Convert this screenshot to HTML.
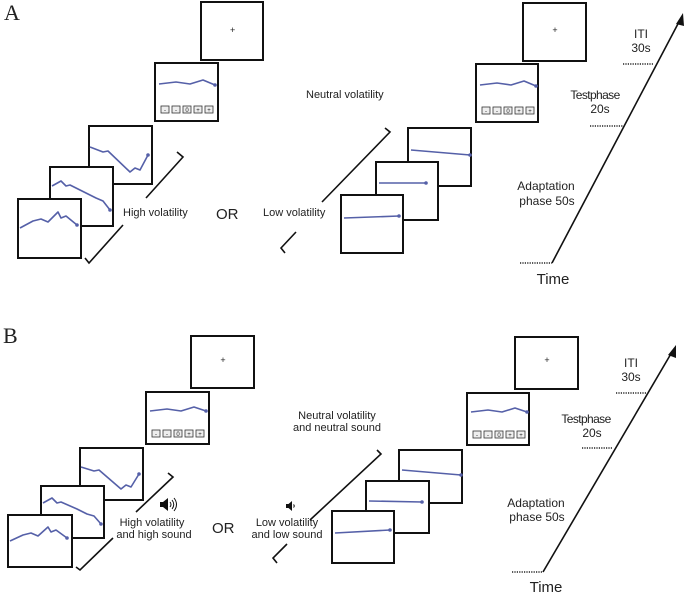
<!DOCTYPE html>
<html><head><meta charset="utf-8"><style>
html,body{margin:0;padding:0;background:#fff;}
svg{display:block;}
text{font-family:"Liberation Sans",Arial,sans-serif;fill:#222;}
.f{fill:#fff;stroke:#111;stroke-width:2;}
.c{fill:none;stroke:#5560a8;stroke-width:1.6;stroke-linejoin:round;}
.d{fill:#5560a8;}
.l{fill:none;stroke:#111;stroke-width:1.6;}
.dt{stroke:#222;stroke-width:1.5;stroke-dasharray:1.2,1.2;}
.b{fill:#eee;stroke:#333;stroke-width:0.8;}
.bt{font-size:6px;text-anchor:middle;}
</style></head><body>
<svg width="685" height="593" viewBox="0 0 685 593" xmlns="http://www.w3.org/2000/svg">
<!-- ============ PANEL A ============ -->
<text x="4" y="20" style="font-family:'Liberation Serif',serif;font-size:22px;">A</text>

<!-- left stack -->
<g transform="translate(201,2)"><rect class="f" width="62" height="58"/><text x="29" y="31" style="font-size:9px">+</text></g>
<g transform="translate(155,63)"><rect class="f" width="63" height="58"/>
<polyline class="c" points="4,21 21,19 35,21 48,17 60,22"/><circle class="d" cx="60" cy="22" r="1.8"/>
<rect class="b" x="6" y="43" width="8" height="7"/><text class="bt" x="10" y="49">-</text>
<rect class="b" x="17" y="43" width="8" height="7"/><text class="bt" x="21" y="49">-</text>
<rect class="b" x="28" y="43" width="8" height="7"/><text class="bt" x="32" y="49">0</text>
<rect class="b" x="39" y="43" width="8" height="7"/><text class="bt" x="43" y="49">+</text>
<rect class="b" x="50" y="43" width="8" height="7"/><text class="bt" x="54" y="49">+</text></g>
<g transform="translate(89,126)"><rect class="f" width="63" height="58"/>
<polyline class="c" points="1,21 14,26 19,25 41,46 46,42 51,44 59,29"/><circle class="d" cx="59" cy="29" r="1.8"/></g>
<g transform="translate(50,167)"><rect class="f" width="63" height="59"/>
<polyline class="c" points="2,19 11,14 16,19 20,18 36,26 46,31 53,34 60,43"/><circle class="d" cx="60" cy="43" r="1.8"/></g>
<g transform="translate(18,199)"><rect class="f" width="63" height="59"/>
<polyline class="c" points="2,29 15,22 23,20 30,23 40,13 43,19 48,17 59,26"/><circle class="d" cx="59" cy="26" r="1.8"/></g>
<polyline class="l" points="177,152 183,157 146,198"/>
<polyline class="l" points="123,225 89,263 85,258"/>
<text x="123" y="216" style="font-size:11px">High volatility</text>
<text x="216" y="219" style="font-size:15px">OR</text>

<!-- right stack A -->
<g transform="translate(523,3)"><rect class="f" width="63" height="58"/><text x="32" y="30" style="font-size:9px;text-anchor:middle">+</text></g>
<g transform="translate(476,64)"><rect class="f" width="62" height="58"/>
<polyline class="c" points="4,21 21,19 35,21 48,17 60,22"/><circle class="d" cx="60" cy="22" r="1.8"/>
<rect class="b" x="6" y="43" width="8" height="7"/><text class="bt" x="10" y="49">-</text>
<rect class="b" x="17" y="43" width="8" height="7"/><text class="bt" x="21" y="49">-</text>
<rect class="b" x="28" y="43" width="8" height="7"/><text class="bt" x="32" y="49">0</text>
<rect class="b" x="39" y="43" width="8" height="7"/><text class="bt" x="43" y="49">+</text>
<rect class="b" x="50" y="43" width="8" height="7"/><text class="bt" x="54" y="49">+</text></g>
<g transform="translate(408,128)"><rect class="f" width="63" height="58"/>
<polyline class="c" points="3,22 62,27"/><circle class="d" cx="62" cy="27" r="1.8"/></g>
<g transform="translate(376,162)"><rect class="f" width="62" height="58"/>
<polyline class="c" points="3,21 50,21"/><circle class="d" cx="50" cy="21" r="1.8"/></g>
<g transform="translate(341,195)"><rect class="f" width="62" height="58"/>
<polyline class="c" points="3,23 58,21"/><circle class="d" cx="58" cy="21" r="1.8"/></g>
<polyline class="l" points="385,128 390,132 322,202"/>
<polyline class="l" points="296,232 281,248 285,253"/>
<text x="306" y="98" style="font-size:11px">Neutral volatility</text>
<text x="263" y="216" style="font-size:11px">Low volatility</text>

<!-- time axis A -->
<line x1="552" y1="263" x2="680" y2="20" stroke="#111" stroke-width="1.6"/>
<polygon points="683,13 676,24 684,26" fill="#111"/>
<line class="dt" x1="520" y1="263" x2="552" y2="263"/>
<line class="dt" x1="590" y1="126" x2="623" y2="126"/>
<line class="dt" x1="623" y1="64" x2="653" y2="64"/>
<g style="font-size:12px;text-anchor:middle">
<text x="641" y="38">ITI</text><text x="641" y="52">30s</text>
<text x="595" y="99" style="letter-spacing:-0.6px">Testphase</text><text x="600" y="113">20s</text>
<text x="546" y="190">Adaptation</text><text x="547" y="205">phase 50s</text>
</g>
<text x="553" y="284" style="font-size:15px;text-anchor:middle">Time</text>

<!-- ============ PANEL B ============ -->
<text x="3" y="343" style="font-family:'Liberation Serif',serif;font-size:22px;">B</text>

<g transform="translate(191,336)"><rect class="f" width="63" height="52"/><text x="32" y="27" style="font-size:9px;text-anchor:middle">+</text></g>
<g transform="translate(146,392)"><rect class="f" width="63" height="52"/>
<polyline class="c" points="4,19 21,17 35,19 48,15 60,19"/><circle class="d" cx="60" cy="19" r="1.8"/>
<rect class="b" x="6" y="38" width="8" height="7"/><text class="bt" x="10" y="44">-</text>
<rect class="b" x="17" y="38" width="8" height="7"/><text class="bt" x="21" y="44">-</text>
<rect class="b" x="28" y="38" width="8" height="7"/><text class="bt" x="32" y="44">0</text>
<rect class="b" x="39" y="38" width="8" height="7"/><text class="bt" x="43" y="44">+</text>
<rect class="b" x="50" y="38" width="8" height="7"/><text class="bt" x="54" y="44">+</text></g>
<g transform="translate(80,448)"><rect class="f" width="63" height="52"/>
<polyline class="c" points="1,19 14,23 19,22 41,41 46,37 51,39 59,26"/><circle class="d" cx="59" cy="26" r="1.8"/></g>
<g transform="translate(41,486)"><rect class="f" width="63" height="52"/>
<polyline class="c" points="2,17 11,12 16,17 20,16 36,23 46,28 53,30 60,38"/><circle class="d" cx="60" cy="38" r="1.8"/></g>
<g transform="translate(8,515)"><rect class="f" width="64" height="52"/>
<polyline class="c" points="2,26 15,20 23,18 30,21 40,12 43,17 48,15 59,23"/><circle class="d" cx="59" cy="23" r="1.8"/></g>
<polyline class="l" points="168,473 173,477 136,512"/>
<polyline class="l" points="113,538 80,570 76,567"/>
<!-- speaker high -->
<g transform="translate(160,498)">
<rect x="0" y="4" width="3" height="5" fill="#111"/><polygon points="3,4 8,0 8,13 3,9" fill="#111"/>
<path d="M10,4 Q12,6.5 10,9 M12,2 Q15.5,6.5 12,11 M14,0 Q19,6.5 14,13" fill="none" stroke="#111" stroke-width="1"/></g>
<text x="152" y="526" style="font-size:11px;text-anchor:middle">High volatility</text>
<text x="154" y="538" style="font-size:11px;text-anchor:middle">and high sound</text>
<text x="212" y="533" style="font-size:15px">OR</text>
<!-- speaker low -->
<g transform="translate(286,501)">
<rect x="0" y="3" width="2.5" height="4" fill="#111"/><polygon points="2.5,3 6,0 6,10 2.5,7" fill="#111"/>
<path d="M7.5,3.5 Q9,5 7.5,6.5" fill="none" stroke="#111" stroke-width="1"/></g>
<text x="287" y="526" style="font-size:11px;text-anchor:middle">Low volatility</text>
<text x="287" y="538" style="font-size:11px;text-anchor:middle">and low sound</text>

<!-- right stack B -->
<g transform="translate(515,337)"><rect class="f" width="63" height="52"/><text x="32" y="26" style="font-size:9px;text-anchor:middle">+</text></g>
<g transform="translate(467,393)"><rect class="f" width="62" height="52"/>
<polyline class="c" points="4,19 21,17 35,19 48,15 60,19"/><circle class="d" cx="60" cy="19" r="1.8"/>
<rect class="b" x="6" y="38" width="8" height="7"/><text class="bt" x="10" y="44">-</text>
<rect class="b" x="17" y="38" width="8" height="7"/><text class="bt" x="21" y="44">-</text>
<rect class="b" x="28" y="38" width="8" height="7"/><text class="bt" x="32" y="44">0</text>
<rect class="b" x="39" y="38" width="8" height="7"/><text class="bt" x="43" y="44">+</text>
<rect class="b" x="50" y="38" width="8" height="7"/><text class="bt" x="54" y="44">+</text></g>
<g transform="translate(399,450)"><rect class="f" width="63" height="53"/>
<polyline class="c" points="3,20 62,25"/><circle class="d" cx="62" cy="25" r="1.8"/></g>
<g transform="translate(366,481)"><rect class="f" width="63" height="52"/>
<polyline class="c" points="3,20 56,21"/><circle class="d" cx="56" cy="21" r="1.8"/></g>
<g transform="translate(332,511)"><rect class="f" width="62" height="52"/>
<polyline class="c" points="3,22 58,19"/><circle class="d" cx="58" cy="19" r="1.8"/></g>
<polyline class="l" points="377,450 381,454 310,520"/>
<polyline class="l" points="287,544 273,558 277,563"/>
<text x="337" y="419" style="font-size:11px;text-anchor:middle">Neutral volatility</text>
<text x="337" y="431" style="font-size:11px;text-anchor:middle">and neutral sound</text>

<!-- time axis B -->
<line x1="543" y1="572" x2="672" y2="352" stroke="#111" stroke-width="1.6"/>
<polygon points="676,345 668,355 676,358" fill="#111"/>
<line class="dt" x1="512" y1="572" x2="543" y2="572"/>
<line class="dt" x1="582" y1="448" x2="613" y2="448"/>
<line class="dt" x1="616" y1="393" x2="647" y2="393"/>
<g style="font-size:12px;text-anchor:middle">
<text x="631" y="367">ITI</text><text x="631" y="381">30s</text>
<text x="586" y="423" style="letter-spacing:-0.6px">Testphase</text><text x="592" y="437">20s</text>
<text x="536" y="507">Adaptation</text><text x="537" y="521">phase 50s</text>
</g>
<text x="546" y="592" style="font-size:15px;text-anchor:middle">Time</text>
</svg>
</body></html>
